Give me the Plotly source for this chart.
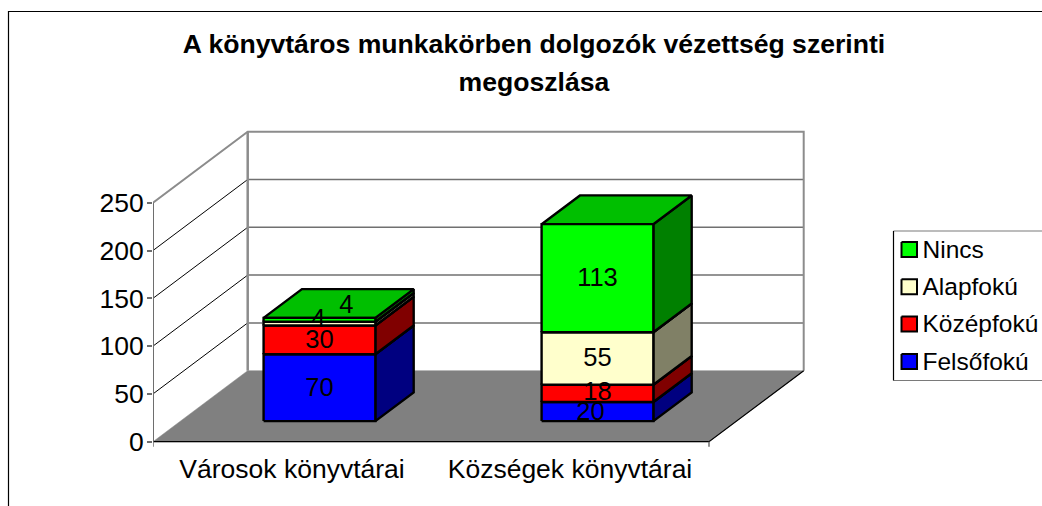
import plotly.graph_objects as go

# ---- data ----
title_lines = ["A könyvtáros munkakörben dolgozók vézettség szerinti", "megoszlása"]
categories = ["Városok könyvtárai", "Községek könyvtárai"]
series_names = ["Felsőfokú", "Középfokú", "Alapfokú", "Nincs"]
felsofoku = [70, 20]
kozepfoku = [30, 18]
alapfoku = [4, 55]
nincs = [4, 113]
y_ticks = [0, 50, 100, 150, 200, 250]

# ---- styles ----
front_colors = ["#0000FF", "#FF0000", "#FFFFCC", "#00FF00"]
side_colors = ["#000080", "#800000", "#808066", "#008000"]
top_colors = ["#0000BF", "#BF0000", "#BFBF99", "#00BF00"]
FONT = "Liberation Sans, Arial, sans-serif"
W, H = 1042, 506

# pixel calibration of the front plane
PX0, PX_CAT = 153.0, 278.0     # x pixel of category 0 edge, px per category
PY0, PX_VAL = 441.7, 0.956     # y pixel of value 0, px per value
DEPTH_DX, DEPTH_DY = 94.7, 71.0  # full depth offset, px
BAR_W = 0.402                  # bar width, in categories
D_FRONT, D_BACK = 0.29, 0.695  # bar depth span, fraction of full depth
TICK = 5.0

plot_l, plot_r, plot_t, plot_b = PX0, 812.0, 125.0, PY0 + TICK + 1


def project(cat, val, depth=0.0):
    """Category/value/depth to the axis units of the 2D plot (oblique projection)."""
    return (cat + depth * DEPTH_DX / PX_CAT, val + depth * DEPTH_DY / PX_VAL)


def poly(points, fill, line_color="#000000", line_width=2.4):
    xs, ys = zip(*[project(*p) for p in points + points[:1]])
    return go.Scatter(x=xs, y=ys, mode="lines", fill="toself", fillcolor=fill,
                      line=dict(color=line_color, width=line_width),
                      hoverinfo="skip", showlegend=False)


def seg(points, color, width):
    xs, ys = zip(*[project(*p) for p in points])
    return go.Scatter(x=xs, y=ys, mode="lines", line=dict(color=color, width=width),
                      hoverinfo="skip", showlegend=False)


n = len(categories)
fig = go.Figure()

# floor, gridlines, walls
fig.add_trace(poly([(0, 0, 0), (n, 0, 0), (n, 0, 1), (0, 0, 1)], "#808080", "#808080", 0.5))
for t in y_ticks[1:-1]:
    fig.add_trace(seg([(0, t, 0), (0, t, 1)], "#000000", 1))
    fig.add_trace(seg([(0, t, 1), (n, t, 1)], "#707070", 1.5))
top = y_ticks[-1]
fig.add_trace(seg([(0, top, 0), (0, top, 1), (n, top, 1), (n, 0, 1)], "#8C8C8C", 2))
fig.add_trace(seg([(0, 0, 1), (0, top, 1)], "#8C8C8C", 2.5))
fig.add_trace(seg([(n, 0, 1), (n, 0, 0), (0, 0, 0)], "#000000", 1.2))
fig.add_trace(seg([(0, 0, 0), (0, top, 0)], "#6E6E6E", 2))
tick_v = TICK / PX_VAL
for c in (0, n):
    fig.add_trace(seg([(c, 0, 0), (c, -tick_v, 0)], "#6E6E6E", 1.5))

# stacked boxes
stacks = [felsofoku, kozepfoku, alapfoku, nincs]
for i in range(n):
    x0 = i + 0.5 - BAR_W / 2
    x1 = i + 0.5 + BAR_W / 2
    base = 0
    for s, vals in enumerate(stacks):
        v0, v1 = base, base + vals[i]
        base = v1
        fig.add_trace(poly([(x1, v0, D_FRONT), (x1, v0, D_BACK), (x1, v1, D_BACK), (x1, v1, D_FRONT)], side_colors[s]))
        fig.add_trace(poly([(x0, v1, D_FRONT), (x1, v1, D_FRONT), (x1, v1, D_BACK), (x0, v1, D_BACK)], top_colors[s]))
        fig.add_trace(poly([(x0, v0, D_FRONT), (x1, v0, D_FRONT), (x1, v1, D_FRONT), (x0, v1, D_FRONT)], front_colors[s]))

# data labels: centre of each front face, plus small pixel nudges (dx, dy up) for crowded ones
nudges = {(0, 2): (-1, 3), (0, 3): (27, 13), (1, 0): (-7, -2), (1, 1): (0, 0), (1, 2): (0, -1), (1, 3): (0, -1),
          (0, 0): (0, -2), (0, 1): (0, -2)}
for i in range(n):
    base = 0
    for s, vals in enumerate(stacks):
        mid = base + vals[i] / 2
        base += vals[i]
        dx, dy = nudges.get((i, s), (0, 0))
        px, py = project(i + 0.5, mid, D_FRONT)
        fig.add_trace(go.Scatter(x=[px + dx / PX_CAT], y=[py + dy / PX_VAL], mode="text",
                                 text=[str(vals[i])], textposition="middle center",
                                 textfont=dict(family=FONT, size=25.5, color="#000000"),
                                 hoverinfo="skip", showlegend=False))


def page_text(x, y, text, size, pos):
    """Text on an extra axis pair that spans the whole page in pixels."""
    return go.Scatter(x=[x], y=[y], xaxis="x2", yaxis="y2", mode="text", text=[text], textposition=pos,
                      textfont=dict(family=FONT, size=size, color="#000000"), hoverinfo="skip", showlegend=False)


def page_line(xs, ys, color, width):
    return go.Scatter(x=xs, y=ys, xaxis="x2", yaxis="y2", mode="lines", line=dict(color=color, width=width),
                      hoverinfo="skip", showlegend=False)


# chart frame
fig.add_trace(page_line([8.5, 8.5, W], [H, 11.5, 11.5], "#000000", 1.2))

# legend box (no right edge, as in the reference)
lx0, ly0, ly1 = 893.5, 231.0, 380.5
fig.add_trace(page_line([W, lx0], [ly0, ly0], "#7A7A7A", 1.2))
fig.add_trace(page_line([lx0, W], [ly1, ly1], "#7A7A7A", 1.2))
fig.add_trace(page_line([lx0, lx0], [ly0, ly1], "#000000", 1.2))

for k, s in enumerate(reversed(range(len(series_names)))):
    cy = 249.5 + k * 37.3
    fig.add_trace(go.Scatter(x=[901.5, 917, 917, 901.5, 901.5], y=[cy - 7.5, cy - 7.5, cy + 7.5, cy + 7.5, cy - 7.5],
                             xaxis="x2", yaxis="y2", mode="lines", fill="toself", fillcolor=front_colors[s],
                             line=dict(color="#000000", width=2), hoverinfo="skip", showlegend=False))
    fig.add_trace(page_text(922.5, cy + 2, series_names[s], 24.5, "middle right"))

for k, line in enumerate(title_lines):
    fig.add_trace(page_text(534, 46.5 + k * 38, f"<b>{line}</b>", 26.6, "middle center"))

fig.update_layout(
    width=W, height=H, margin=dict(l=0, r=0, t=0, b=0), showlegend=False,
    paper_bgcolor="#FFFFFF", plot_bgcolor="rgba(0,0,0,0)",
    xaxis=dict(domain=[plot_l / W, plot_r / W], range=[0, (plot_r - PX0) / PX_CAT], tickmode="array", automargin=False,
               tickvals=[i + 0.5 for i in range(n)], ticktext=categories, ticks="", showgrid=False, zeroline=False,
               showline=False, tickfont=dict(family=FONT, size=26.5, color="#000000"), ticklabelstandoff=3),
    yaxis=dict(domain=[1 - plot_b / H, 1 - plot_t / H], range=[(PY0 - plot_b) / PX_VAL, (PY0 - plot_t) / PX_VAL],
               tickmode="array", tickvals=y_ticks, ticks="outside", ticklen=5, tickwidth=1.5, tickcolor="#6E6E6E", automargin=False,
               ticklabelstandoff=-2, showgrid=False, zeroline=False, showline=False,
               tickfont=dict(family=FONT, size=26.5, color="#000000")),
    xaxis2=dict(domain=[0, 1], range=[0, W], visible=False, anchor="y2", automargin=False),
    yaxis2=dict(domain=[0, 1], range=[H, 0], visible=False, anchor="x2", automargin=False),
)

fig.write_html("out.html", config={"displayModeBar": False},
               post_script="document.body.style.margin='0';document.body.style.overflow='hidden';")
